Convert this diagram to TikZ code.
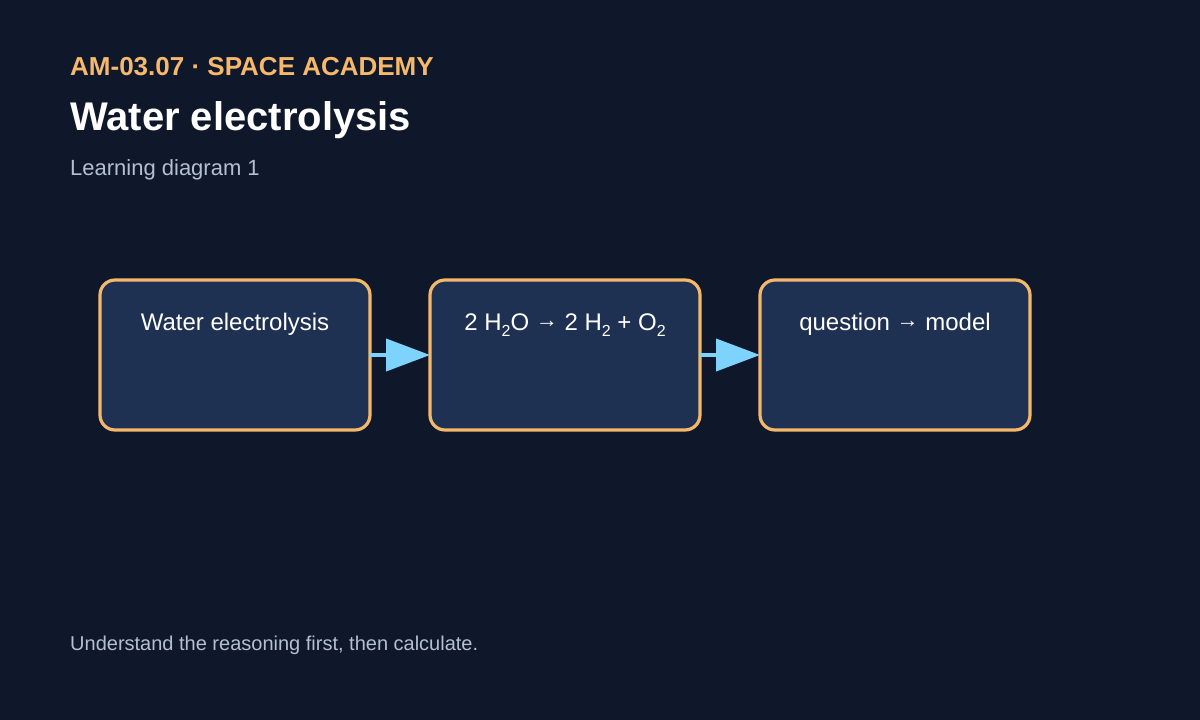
\documentclass[tikz,border=0pt]{standalone}
\usepackage{fontspec}
\setmainfont{Liberation Sans}
\usetikzlibrary{arrows.meta}
\definecolor{bg}{HTML}{0F172A}
\definecolor{boxfill}{HTML}{1F3152}
\definecolor{boxline}{HTML}{F4B86A}
\definecolor{accent}{HTML}{F6B96B}
\definecolor{muted}{HTML}{B4C0D2}
\definecolor{arrowc}{HTML}{7DD3FC}
\newcommand{\subtwo}{\raisebox{-0.28em}{\fontsize{16}{16}\selectfont 2}}
\newcommand{\rarr}{\raisebox{0.12em}{\fontsize{22}{22}\selectfont →}}
\begin{document}
\begin{tikzpicture}[x=1pt,y=-1pt,
  stagebox/.style={draw=boxline, fill=boxfill, line width=3.2pt, rounded corners=15pt,
    minimum width=270pt, minimum height=150pt, outer sep=0pt, inner sep=0pt},
  boxtext/.style={text=white, font=\fontsize{24}{28}\selectfont, anchor=base, inner sep=0pt},
  flow/.style={draw=arrowc, line width=4pt, -{Triangle[length=44pt,width=32pt]}},
  plain/.style={anchor=base west, inner sep=0pt}]
\fill[bg] (0,0) rectangle (1200,720);
\useasboundingbox (0,0) rectangle (1200,720);
\node[plain, text=accent, font=\fontsize{26}{30}\selectfont\bfseries] (kicker) at (70,75) {AM-03.07 · SPACE ACADEMY};
\node[plain, text=white, font=\fontsize{40}{46}\selectfont\bfseries] (title) at (70,130) {Water electrolysis};
\node[plain, text=muted, font=\fontsize{22}{26}\selectfont] (subtitle) at (70,175) {Learning diagram 1};
\node[stagebox] (b1) at (235,355) {};
\node[stagebox] (b2) at (565,355) {};
\node[stagebox] (b3) at (895,355) {};
\node[boxtext] (t1) at (235,330) {Water electrolysis};
\node[boxtext] (t2) at (565,330) {2 H\subtwo O \rarr{} 2 H\subtwo{} + O\subtwo};
\node[boxtext] (t3) at (895,330) {question \rarr{} model};
\draw[flow] (b1.east) -- (b2.west);
\draw[flow] (b2.east) -- (b3.west);
\node[plain, text=muted, font=\fontsize{20}{24}\selectfont] (footer) at (70,650) {Understand the reasoning first, then calculate.};
\end{tikzpicture}
\end{document}
